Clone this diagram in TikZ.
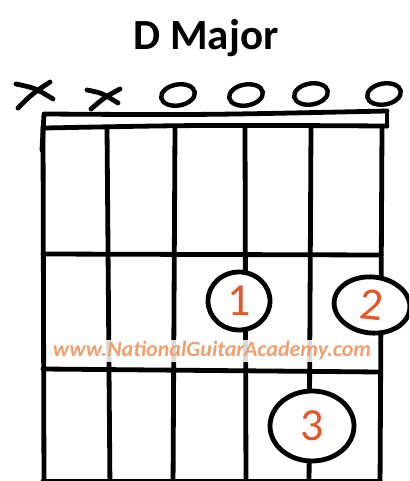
\documentclass[tikz,border=0pt]{standalone}
\usepackage{fontspec}
\setmainfont{Carlito}
\usetikzlibrary{shapes.geometric}
\definecolor{fing}{HTML}{E4572A}
\definecolor{wm}{HTML}{EFA070}
\begin{document}
\begin{tikzpicture}[x=1pt,y=-1pt,
  ink/.style={line width=4.8pt,line cap=round,line join=round,black},
  finger/.style={ellipse,draw=black,line width=4.8pt,fill=white,inner sep=0pt,text=fing,font=\fontsize{46}{46}\selectfont},
  openmark/.style={ellipse,draw=black,line width=4.4pt,minimum width=34pt,minimum height=21pt,inner sep=0pt,rotate=10}]
\useasboundingbox (0,0) rectangle (409,481);
\clip (0,0) rectangle (409,481);
\node[font=\fontsize{43}{43}\selectfont\bfseries] (title) at (206,38) {D Major};
% muted strings
\coordinate (x1a) at (16,84); \coordinate (x1b) at (53,99);
\coordinate (x1c) at (18,108); \coordinate (x1d) at (50,82);
\draw[ink] (x1a) .. controls (35,88) .. (x1b);
\draw[ink] (x1c) .. controls (32,94) .. (x1d);
\coordinate (x2a) at (87,90); \coordinate (x2b) at (118,103);
\coordinate (x2c) at (91,109); \coordinate (x2d) at (120,89);
\draw[ink] (x2a) .. controls (102,93) .. (x2b);
\draw[ink] (x2c) .. controls (105,97) .. (x2d);
% open strings
\node[openmark] (o3) at (178,95) {};
\node[openmark] (o4) at (246,95) {};
\node[openmark] (o5) at (311,94) {};
\node[openmark] (o6) at (384,94) {};
% nut
\coordinate (n1) at (45,114); \coordinate (n2) at (387,111);
\coordinate (n3) at (45,128); \coordinate (n4) at (387,126);
\draw[ink] (n1) .. controls (200,115) .. (n2);
\draw[ink] (n3) .. controls (200,125) .. (n4);
\draw[ink] (44,114) -- (42,150);
\draw[ink] (n2) -- (n4);
% strings
\foreach \i/\xt/\xb in {1/43/44,2/107/110,3/175/173,4/245/246,5/311/309,6/382/380}{
  \coordinate (s\i t) at (\xt,127);
  \coordinate (s\i b) at (\xb,490);
  \draw[ink] (s\i t) -- (s\i b);
}
% frets
\coordinate (f1a) at (43,254); \coordinate (f1b) at (381,255);
\coordinate (f2a) at (43,369); \coordinate (f2b) at (380,372);
\coordinate (f3a) at (43,481); \coordinate (f3b) at (380,481);
\draw[ink] (f1a) -- (f1b);
\draw[ink] (f2a) -- (f2b);
\draw[ink] (f3a) -- (f3b);
% watermark
\node[fill=white,fill opacity=0.85,text opacity=1,text=wm,inner xsep=2pt,inner ysep=2pt,font=\fontsize{22}{22}\selectfont\bfseries\itshape] (wm) at (212,351) {www.NationalGuitarAcademy.com};
% fingers
\node[finger,minimum width=62pt,minimum height=58pt] (f1) at (239,301) {1};
\node[finger,minimum width=76pt,minimum height=56pt,rotate=-6] (f2) at (372,305) {2};
\node[finger,minimum width=84pt,minimum height=70pt] (f3) at (312,426) {3};
\end{tikzpicture}
\end{document}
